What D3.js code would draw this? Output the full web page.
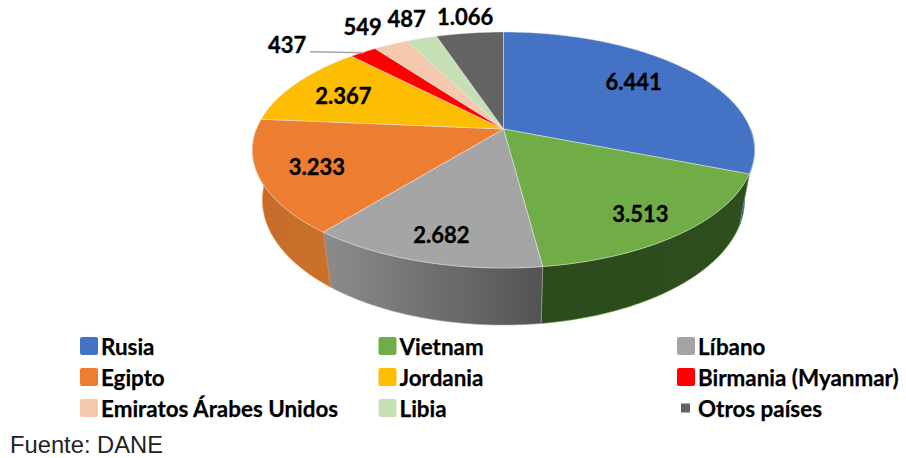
<!DOCTYPE html>
<html lang="en">
<head>
<meta charset="utf-8">
<title></title>
<script src="https://d3js.org/d3.v7.min.js"></script>
<style type="text/css">
html, body { margin: 0; padding: 0; background: #fff; }
svg { display: block; }
.lab { font-family: Lato, sans-serif; font-weight: 700; font-size: 22px; fill: #000; stroke: #000; stroke-width: 0.35px; text-anchor: middle; dominant-baseline: central; }
.leg { font-family: Lato, sans-serif; font-weight: 700; font-size: 22.4px; fill: #000; stroke: #000; stroke-width: 0.25px; dominant-baseline: central; }
.src { font-family: "Liberation Sans", sans-serif; font-size: 23px; fill: #222; }
</style>
</head>
<body>
<svg width="906" height="458"></svg>
<script>
var categories = ["Rusia", "Vietnam", "Líbano", "Egipto", "Jordania", "Birmania (Myanmar)", "Emiratos Árabes Unidos", "Libia", "Otros países"];
var values = [6441, 3513, 2682, 3233, 2367, 437, 549, 487, 1066];
var valueLabels = ["6.441", "3.513", "2.682", "3.233", "2.367", "437", "549", "487", "1.066"];
var colors = ["#4472c4", "#70ad47", "#a5a5a5", "#ed7d31", "#fdbd00", "#ff0000", "#f4c9ae", "#c6dfb5", "#636363"];
var sideFrom = ["#27406f", "#2c4a1c", "#8c8c8c", "#c56c2a", "#b58a00", "#b00000", "#c0a090", "#90a080", "#444444"];
var sideTo = ["#2a4a90", "#2f4e1f", "#535353", "#c9702d", "#b58a00", "#b00000", "#c0a090", "#90a080", "#444444"];

// label placement: fraction of radius, then nudge in px
var labelRadius = [0.68, 0.8, 0.8, 0.78, 0.76, 1, 1.3, 1.25, 1.2];
var labelNudge = [[0, -7], [0, 3], [0, 4], [1, 1], [0, 2], [-76, -8], [0, 3], [2, -1], [1, -1]];

var svg = d3.select("svg");
var defs = svg.append("defs");

// perspective disc: circle (x, y) goes to screen through one homography
var cx = 503.5, R = 247, apexY = 129, tilt = 91.3, k = -0.178;

function project(angle, r) {
  var x = Math.sin(angle) * r, y = -Math.cos(angle) * r;
  var w = 1 + k * y;
  return [cx + R * x / w, (tilt * y + apexY) / w];
}

// bottom rim is a slightly narrower, lower ellipse
var topEll = {rx: 251, cy: 150, ry: 118}, botEll = {rx: 241, cy: 200, ry: 125};

function projectBottom(angle) {
  var p = project(angle, 1);
  var u = (p[0] - cx) / topEll.rx, v = (p[1] - topEll.cy) / topEll.ry;
  return [cx + botEll.rx * u, botEll.cy + botEll.ry * v];
}

var pie = d3.pie().sort(null)(values);
var line = d3.line();

function rim(a0, a1) {
  var n = Math.max(2, Math.ceil((a1 - a0) / 0.01));
  return d3.range(n + 1).map(function(i) { return a0 + (a1 - a0) * i / n; });
}

// side wall, only the rim part that faces the viewer
var front0 = Math.PI * 0.5, front1 = Math.PI * 1.5;
pie.forEach(function(d, i) {
  var a0 = Math.max(d.startAngle, front0), a1 = Math.min(d.endAngle, front1);
  if (a1 <= a0) return;
  var angles = rim(a0, a1);
  var upper = angles.map(function(a) { return project(a, 1); });
  var lower = angles.map(projectBottom).reverse();
  var xs = d3.extent(upper, function(p) { return p[0]; });
  var id = "side" + i;
  var grad = defs.append("linearGradient").attr("id", id)
    .attr("gradientUnits", "userSpaceOnUse")
    .attr("x1", xs[0]).attr("x2", xs[1]).attr("y1", 0).attr("y2", 0);
  grad.append("stop").attr("offset", 0).attr("stop-color", sideFrom[i]);
  grad.append("stop").attr("offset", 1).attr("stop-color", sideTo[i]);
  svg.append("path")
    .attr("d", line(upper.concat(lower)) + "Z")
    .attr("fill", "url(#" + id + ")")
    .attr("stroke", colors[i]).attr("stroke-width", 0.6);
});

// top face
pie.forEach(function(d, i) {
  var pts = [[cx, apexY]].concat(rim(d.startAngle, d.endAngle).map(function(a) { return project(a, 1); }));
  svg.append("path")
    .attr("d", line(pts) + "Z")
    .attr("fill", colors[i])
    .attr("stroke", "#e8e8e8").attr("stroke-width", 0.5);
});

// leader for Birmania
var birm = pie[5];
var birmMid = (birm.startAngle + birm.endAngle) / 2;
var birmAt = project(birmMid, 1);
svg.append("path")
  .attr("d", line([[birmAt[0] - 53, birmAt[1] - 0.5], [birmAt[0] + 1, birmAt[1] + 0.5]]))
  .attr("fill", "none").attr("stroke", "#a6a6a6").attr("stroke-width", 1.5);

// value labels
pie.forEach(function(d, i) {
  var p = project((d.startAngle + d.endAngle) / 2, labelRadius[i]);
  svg.append("text").attr("class", "lab")
    .attr("x", p[0] + labelNudge[i][0])
    .attr("y", p[1] + labelNudge[i][1])
    .text(valueLabels[i]);
});

// legend, three columns by three rows
var legX = d3.scalePoint().domain([0, 1, 2]).range([80, 677]);
var legY = d3.scalePoint().domain([0, 1, 2]).range([346, 408]);
categories.forEach(function(c, i) {
  var col = i % 3, row = Math.floor(i / 3);
  var small = i === 8;
  var s = small ? 9 : 18;
  svg.append("rect")
    .attr("x", legX(col) + (small ? 4 : 0))
    .attr("y", legY(row) - s / 2)
    .attr("width", s).attr("height", s)
    .attr("rx", small ? 0 : 2)
    .attr("fill", colors[i]);
  svg.append("text").attr("class", "leg")
    .attr("x", legX(col) + 21)
    .attr("y", legY(row))
    .text(c);
});

svg.append("text").attr("class", "src").attr("x", 10).attr("y", 453)
  .attr("textLength", 153).attr("lengthAdjust", "spacingAndGlyphs")
  .text("Fuente: DANE");
</script>
</body>
</html>
